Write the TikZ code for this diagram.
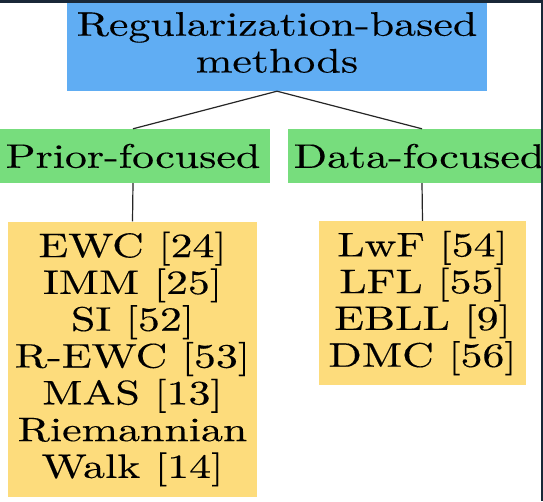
\documentclass[tikz,border=0pt]{standalone}
\usepackage{fontspec}
\setmainfont{lmroman10-regular.otf}[FakeStretch=1.29,FakeBold=0.3]
\definecolor{methodblue}{RGB}{96,173,243}
\definecolor{groupgreen}{RGB}{119,221,125}
\definecolor{listorange}{RGB}{253,220,124}
\definecolor{framenavy}{RGB}{25,40,56}
\tikzset{
  box/.style={rectangle, inner sep=0pt, align=center, text=black,
    font=\fontsize{34}{36.8}\selectfont},
  rootbox/.style={box, fill=methodblue},
  groupbox/.style={box, fill=groupgreen},
  listbox/.style={box, fill=listorange},
  link/.style={draw=black!85, line width=1.2pt}
}
\begin{document}
\begin{tikzpicture}[x=1pt,y=-1pt]
  \useasboundingbox (0,0) rectangle (543,501);
  \clip (0,0) rectangle (543,501);
  \fill[white] (0,0) rectangle (543,501);

  % root
  \node[rootbox, minimum width=420pt, minimum height=97pt] (root) at (277,42.5)
    {Regularization-based\\methods};

  % two families
  \node[groupbox, minimum width=274pt, minimum height=54pt] (prior) at (133,156)
    {Prior-focused};
  \node[groupbox, minimum width=268pt, minimum height=54pt] (data) at (422,156)
    {\hspace*{-6pt}Data-focused};

  % method lists
  \node[listbox, minimum width=249pt, minimum height=275pt] (priorlist) at (132.5,359)
    {EWC [24]\\IMM [25]\\SI [52]\\R-EWC [53]\\MAS [13]\\Riemannian\\Walk [14]};
  \node[listbox, minimum width=207pt, minimum height=164pt] (datalist) at (422.5,303)
    {LwF [54]\\LFL [55]\\EBLL [9]\\DMC [56]};

  % connectors
  \draw[link] (root.south) -- (prior.north);
  \draw[link] (root.south) -- (data.north);
  \draw[link] (prior.south) -- (priorlist.north);
  \draw[link] (data.south) -- (datalist.north);

  % dark frame edges
  \fill[framenavy] (0,0) rectangle (543,2.5);
  \fill[framenavy] (540.5,0) rectangle (543,501);
\end{tikzpicture}
\end{document}
